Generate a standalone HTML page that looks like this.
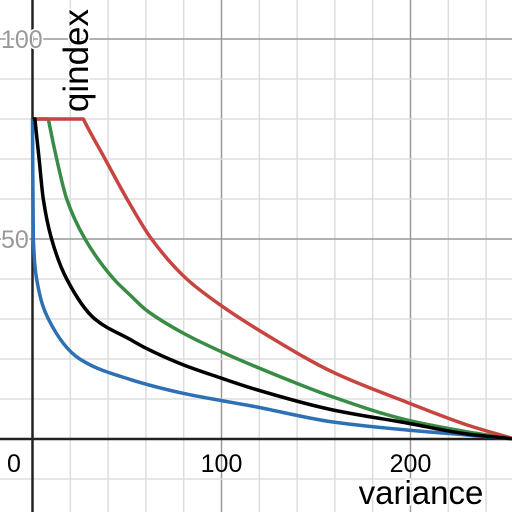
<!DOCTYPE html>
<html><head><meta charset="utf-8"><style>
html,body{margin:0;padding:0;background:#fff}
svg{display:block;font-family:"Liberation Sans",Arial,sans-serif}
</style></head><body>
<svg id="chart" width="512" height="512" viewBox="0 0 512 512">
<g id="grid"></g>
<g id="curves"></g>
<g id="labels"></g>
</svg>
<script>
const xTicks = [0, 100, 200];
const yTicks = [50, 100];
const blueX = [0, 0.1, 0.45, 2.2, 8.4, 25, 51.6, 80, 100, 116, 159, 198, 230, 255];
const blueY = [80, 70, 50, 40, 30, 20, 14.9, 11.4, 9.6, 8.25, 4.25, 2.25, 1, 0];
const blackX = [0.2, 1.3, 3.5, 5.7, 10.1, 18.1, 33, 51.6, 60, 80, 100, 116, 159, 198, 230, 255];
const blackY = [80, 80, 70, 60, 50, 40, 30, 24.9, 22.7, 18.5, 15.2, 12.7, 7.25, 4, 1.25, 0];
const greenX = [0.2, 8.4, 12.8, 18.1, 27.8, 43, 51.6, 60, 80, 100, 116, 159, 198, 230, 255];
const greenY = [80, 80, 70, 60, 50, 40, 36, 32.3, 26.4, 21.8, 18.5, 10.5, 4.75, 1.8, 0];
const redX = [0.2, 26.9, 38.4, 50, 63, 81.6, 100, 125.7, 159, 198, 230, 255];
const redY = [80, 80, 70, 60, 50, 40, 33.3, 25.5, 16.7, 9.2, 3.5, 0];
const NS = "http://www.w3.org/2000/svg";
const sx = v => 32.5 + v * 1.89;
const sy = v => 439 - v * 4;
function mk(tag, attrs, parent){const e=document.createElementNS(NS,tag);for(const k in attrs)e.setAttribute(k,attrs[k]);parent.appendChild(e);return e;}
const grid = document.getElementById('grid');
for (let v = -20; v <= 260; v += 20) {
  const major = v % 100 === 0;
  const l = mk('line',{x1:sx(v),x2:sx(v),y1:0,y2:512,stroke:major?'#999':'#ddd','stroke-width':1.5},grid);
  
  
}
for (let v = -20; v <= 110; v += 10) {
  const major = v % 50 === 0;
  const l = mk('line',{x1:0,x2:512,y1:sy(v),y2:sy(v),stroke:major?'#999':'#ddd','stroke-width':1.5},grid);
  
  
}
const xa = mk('line',{x1:0,x2:512,y1:sy(0),y2:sy(0),stroke:'#222','stroke-width':2.5},grid);


const ya = mk('line',{x1:sx(0),x2:sx(0),y1:0,y2:512,stroke:'#222','stroke-width':2.5},grid);


function pathD(xs, ys){
  const X = xs.map(sx), Y = ys.map(sy), n = X.length;
  const d = [], mL = new Array(n), mR = new Array(n);
  for (let i=0;i<n-1;i++) d.push((Y[i+1]-Y[i])/(X[i+1]-X[i]));
  mL[0]=mR[0]=d[0]; mL[n-1]=mR[n-1]=d[n-2];
  for (let i=1;i<n-1;i++){
    if (d[i-1]===0) { mL[i]=0; mR[i]=d[i]*1.1; continue; }
    let m;
    if (d[i-1]*d[i] <= 0) m=0;
    else { const h0=X[i]-X[i-1], h1=X[i+1]-X[i]; const w1=2*h1+h0, w2=h1+2*h0; m=(w1+w2)/(w1/d[i-1]+w2/d[i]); }
    mL[i]=mR[i]=m;
  }
  let s = 'M'+X[0]+','+Y[0];
  for (let i=0;i<n-1;i++){
    const h=(X[i+1]-X[i])/3;
    s += ' C'+(X[i]+h)+','+(Y[i]+mR[i]*h)+' '+(X[i+1]-h)+','+(Y[i+1]-mL[i+1]*h)+' '+X[i+1]+','+Y[i+1];
  }
  return s;
}
const curves = document.getElementById('curves');
const series = [['blue-curve',blueX,blueY,'#2d70b3'],['green-curve',greenX,greenY,'#388c46'],['red-curve',redX,redY,'#c74440'],['black-curve',blackX,blackY,'#000']];
series.forEach(s=>{
  const e = mk('path',{d:pathD(s[1],s[2]),fill:'none',stroke:s[3],'stroke-width':3.5,'stroke-linejoin':'round'},curves);
  
  
});
const labels = document.getElementById('labels');
xTicks.forEach(v=>{
  const t = mk('text',{x:v===0?14:sx(v),y:472,'font-size':25,'text-anchor':'middle',fill:'#000'},labels);
  t.textContent = v;
  
  
});
yTicks.forEach(v=>{
  const t = mk('text',{x:1,y:sy(v)+9,'font-size':25,'text-anchor':'start',fill:'#999',stroke:'#fff','stroke-width':3,'paint-order':'stroke'},labels);
  t.textContent = v;
  
  
});
const xt = mk('text',{x:421,y:504,'font-size':33,'text-anchor':'middle',fill:'#000',stroke:'#fff','stroke-width':3,'paint-order':'stroke'},labels);
xt.textContent = 'variance';


const yt = mk('text',{x:0,y:0,'font-size':35,'text-anchor':'end',fill:'#000',stroke:'#fff','stroke-width':3,'paint-order':'stroke',transform:'translate(88,9) rotate(-90)'},labels);
yt.textContent = 'qindex';


</script>
</body></html>
